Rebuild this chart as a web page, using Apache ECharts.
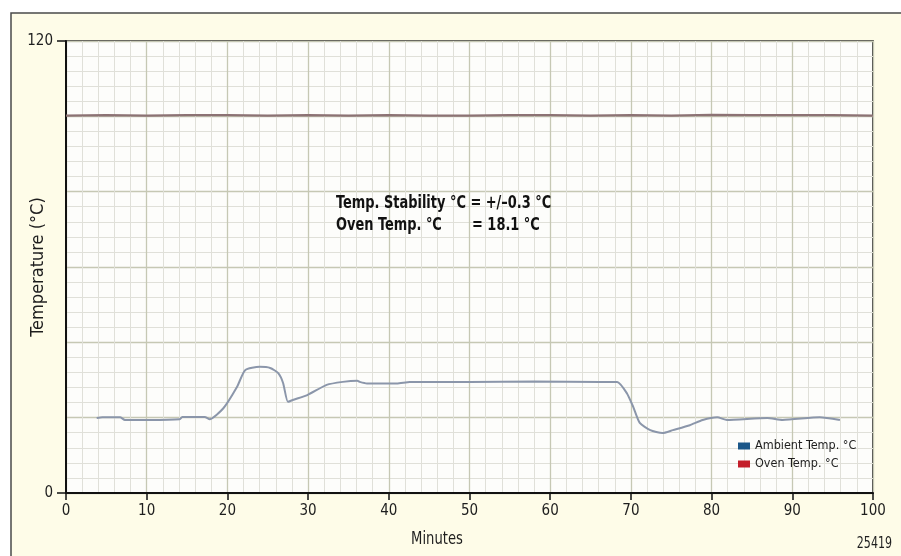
<!DOCTYPE html>
<html>
<head>
<meta charset="utf-8">
<script src="https://cdn.jsdelivr.net/npm/echarts@6/dist/echarts.min.js"></script>
<style>
html,body{margin:0;padding:0;background:#ffffff;}
#chart{width:901px;height:556px;}
</style>
</head>
<body>
<div id="chart"></div>
<script>
// ---- data ----
const ambientMinutes = [3.8, 4.5, 6.7, 7.3, 10.4, 14.1, 14.4, 17.2, 17.8, 19.5, 21.2, 22.2, 24.0, 25.3, 26.3, 26.9, 27.5, 28.1, 29.9, 32.3, 34.3, 36.1, 36.4, 37.3, 41.0, 42.6, 50.0, 58.0, 66.2, 68.3, 69.5, 70.3, 71.1, 72.4, 73.9, 75.2, 77.3, 78.9, 80.7, 81.9, 86.9, 88.8, 93.4, 95.9];
const ambientTemps   = [19.9, 20.1, 20.1, 19.4, 19.4, 19.6, 20.2, 20.2, 19.6, 22.5, 28.2, 32.6, 33.5, 33.2, 31.8, 29.2, 24.2, 24.7, 26.0, 28.7, 29.5, 29.8, 29.5, 29.1, 29.1, 29.5, 29.5, 29.6, 29.5, 29.5, 26.5, 22.8, 18.6, 16.7, 15.9, 16.7, 18.0, 19.4, 20.1, 19.4, 19.9, 19.4, 20.1, 19.4];
const ovenMinutes = [0, 5, 10, 15, 20, 25, 30, 35, 40, 45, 50, 55, 60, 65, 70, 75, 80, 85, 90, 95, 100];
const ovenTemps   = [100.2, 100.3, 100.2, 100.3, 100.3, 100.2, 100.3, 100.2, 100.3, 100.2, 100.2, 100.3, 100.3, 100.2, 100.3, 100.2, 100.4, 100.3, 100.3, 100.3, 100.2];
const seriesNames = ['Ambient Temp. °C', 'Oven Temp. °C'];
const xAxisTitle = 'Minutes';
const yAxisTitle = 'Temperature (°C)';
const annotationLine1 = 'Temp. Stability °C = +/–0.3 °C';
const annotationLine2a = 'Oven Temp. °C';
const annotationLine2b = '= 18.1 °C';
const figureId = '25419';

const FONT = '"Liberation Sans Narrow", "Arial Narrow", "DejaVu Sans Condensed", "Liberation Sans", sans-serif';
const TXT = '#1e1e1e';
const MINOR = '#e0e0d9';
const MAJOR = '#c6c8b4';

const chart = echarts.init(document.getElementById('chart'), null, {renderer: 'canvas'});

const hiddenAxisBase = {
  type: 'value', gridIndex: 0,
  axisLine: {show: false}, axisTick: {show: false}, axisLabel: {show: false}
};

chart.setOption({
  backgroundColor: '#ffffff',
  animation: false,
  grid: {left: 66, top: 41, right: 28, bottom: 63, show: true, backgroundColor: '#fdfdfb', borderColor: '#111', borderWidth: 1.5, containLabel: false, outerBoundsMode: 'none'},
  legend: {
    orient: 'vertical', left: 738, top: 439, padding: 0,
    itemWidth: 12, itemHeight: 7, itemGap: 4, icon: 'rect',
    textStyle: {fontFamily: FONT, fontSize: 12.5, color: TXT, lineHeight: 14},
    data: [
      {name: seriesNames[0], itemStyle: {color: '#1b5789'}},
      {name: seriesNames[1], itemStyle: {color: '#c41e2a'}}
    ]
  },
  xAxis: [
    {type: 'value', min: 0, max: 100, interval: 10, position: 'bottom',
     axisLine: {show: true, onZero: false, lineStyle: {color: '#111', width: 2}},
     axisTick: {show: true, length: 7, lineStyle: {color: '#111', width: 1.5}},
     axisLabel: {fontFamily: FONT, fontSize: 15, color: TXT, margin: 11},
     splitLine: {show: false}},
    Object.assign({}, hiddenAxisBase, {min: 0, max: 100, interval: 2, position: 'top',
     splitLine: {show: true, lineStyle: {color: MINOR, width: 1}}}),
    Object.assign({}, hiddenAxisBase, {min: 0, max: 100, interval: 10, position: 'top',
     splitLine: {show: true, lineStyle: {color: MAJOR, width: 1.3}}})
  ],
  yAxis: [
    {type: 'value', min: 0, max: 120, interval: 120, position: 'left',
     axisLine: {show: true, onZero: false, lineStyle: {color: '#111', width: 2}},
     axisTick: {show: true, length: 9, lineStyle: {color: '#111', width: 1.5}},
     axisLabel: {fontFamily: FONT, fontSize: 15, color: TXT, margin: 13},
     splitLine: {show: false}},
    Object.assign({}, hiddenAxisBase, {min: 0, max: 120, interval: 4, position: 'right',
     splitLine: {show: true, lineStyle: {color: MINOR, width: 1}}}),
    Object.assign({}, hiddenAxisBase, {min: 0, max: 120, interval: 20, position: 'right',
     splitLine: {show: true, lineStyle: {color: MAJOR, width: 1.3}}})
  ],
  series: [
    {name: seriesNames[0], type: 'line', xAxisIndex: 0, yAxisIndex: 0,
     data: ambientMinutes.map((m, i) => [m, ambientTemps[i]]),
     showSymbol: false, symbol: 'none', smooth: 0.2,
     itemStyle: {color: '#1b5789'},
     lineStyle: {color: '#8b96aa', width: 2}, z: 5},
    {name: seriesNames[1], type: 'line', xAxisIndex: 0, yAxisIndex: 0,
     data: ovenMinutes.map((m, i) => [m, ovenTemps[i]]),
     showSymbol: false, symbol: 'none',
     itemStyle: {color: '#c41e2a'},
     lineStyle: {color: '#8c7274', width: 2.2}, z: 5}
  ],
  graphic: [
    {type: 'rect', z: -10, silent: true,
     shape: {x: 11, y: 13, width: 900, height: 560},
     style: {fill: '#fefce8', stroke: '#4a4a4a', lineWidth: 1.5}},
    {type: 'text', x: 38, y: 267, rotation: Math.PI / 2, z: 10,
     style: {text: yAxisTitle, font: '18px ' + FONT, fill: TXT, align: 'center', verticalAlign: 'middle'}},
    {type: 'text', x: 437, y: 540, z: 10, scaleX: 0.86,
     style: {text: xAxisTitle, font: '17px ' + FONT, fill: TXT, align: 'center', verticalAlign: 'middle'}},
    {type: 'text', x: 892, y: 544, z: 10, scaleX: 0.82,
     style: {text: figureId, font: '15px ' + FONT, fill: TXT, align: 'right', verticalAlign: 'middle'}},
    {type: 'text', x: 336, y: 203, z: 10, scaleX: 0.8,
     style: {text: annotationLine1, font: 'bold 18px ' + FONT, fill: '#111', align: 'left', verticalAlign: 'middle'}},
    {type: 'text', x: 336, y: 225, z: 10, scaleX: 0.8,
     style: {text: annotationLine2a, font: 'bold 18px ' + FONT, fill: '#111', align: 'left', verticalAlign: 'middle'}},
    {type: 'text', x: 472, y: 225, z: 10, scaleX: 0.8,
     style: {text: annotationLine2b, font: 'bold 18px ' + FONT, fill: '#111', align: 'left', verticalAlign: 'middle'}}
  ]
});
</script>
</body>
</html>
